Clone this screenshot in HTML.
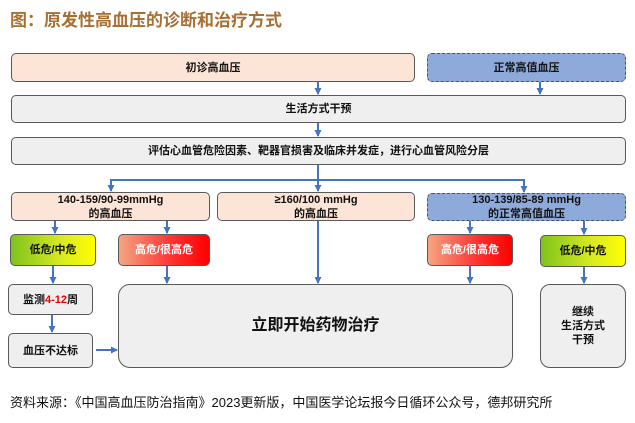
<!DOCTYPE html>
<html><head><meta charset="utf-8"><style>
body{margin:0;width:635px;height:423px;background:#fff;position:relative;overflow:hidden;font-family:"Liberation Sans","Noto Sans CJK SC",sans-serif;}
.b{position:absolute;box-sizing:border-box;border:1.3px solid #595959;border-radius:5px;display:flex;align-items:center;justify-content:center;text-align:center;font-weight:bold;font-size:11px;color:#111;line-height:14px;}
.p{background:#fce4d6}.g{background:#efefef}
.bl{background:#8eaadb;border:1.3px dashed #44546a}
.lo{background:linear-gradient(90deg,#7fc31c,#d8ea20 60%,#ffff00)}
.hi{background:linear-gradient(90deg,#f4a582,#ff3030 60%,#ff0000);color:#fff}
svg{position:absolute;left:0;top:0}
</style></head><body>
<div style="position:absolute;left:10px;top:6px;font-size:17px;font-weight:bold;color:#a86f32;">图：原发性高血压的诊断和治疗方式</div>
<div class="b p" style="left:11px;top:53px;width:404px;height:29px">初诊高血压</div>
<div class="b bl" style="left:427px;top:53px;width:199px;height:29px">正常高值血压</div>
<div class="b g" style="left:11px;top:95px;width:615px;height:28px">生活方式干预</div>
<div class="b g" style="left:11px;top:137px;width:615px;height:28px">评估心血管危险因素、靶器官损害及临床并发症，进行心血管风险分层</div>
<div class="b p" style="left:11px;top:192px;width:199px;height:29px">140-159/90-99mmHg<br>的高血压</div>
<div class="b p" style="left:217px;top:192px;width:198px;height:29px">≥160/100 mmHg<br>的高血压</div>
<div class="b bl" style="left:427px;top:193px;width:199px;height:28px">130-139/85-89 mmHg<br>的正常高值血压</div>
<div class="b lo" style="left:10px;top:234px;width:86px;height:32px">低危/中危</div>
<div class="b hi" style="left:118px;top:234px;width:92px;height:32px">高危/很高危</div>
<div class="b hi" style="left:427px;top:234px;width:86px;height:32px">高危/很高危</div>
<div class="b lo" style="left:540px;top:235px;width:86px;height:32px">低危/中危</div>
<div class="b g" style="left:8px;top:284px;width:85px;height:31px">监测<span style="color:#e00">4-12</span>周</div>
<div class="b g" style="left:8px;top:333px;width:85px;height:35px">血压不达标</div>
<div class="b g" style="left:118px;top:284px;width:395px;height:84px;font-size:16px;border-radius:12px">立即开始药物治疗</div>
<div class="b g" style="left:540px;top:284px;width:86px;height:84px;border-radius:10px">继续<br>生活方式<br>干预</div>
<div style="position:absolute;left:10px;top:392px;font-size:13px;color:#111;">资料来源：《中国高血压防治指南》2023更新版，中国医学论坛报今日循环公众号，德邦研究所</div>
<svg width="635" height="423">
<defs><marker id="a" markerUnits="userSpaceOnUse" markerWidth="7" markerHeight="7" refX="6" refY="3.5" orient="auto"><path d="M0,0L7,3.5L0,7z" fill="#4472c4"/></marker></defs>
<g stroke="#4472c4" stroke-width="2" fill="none" marker-end="url(#a)">
<line x1="318" y1="82" x2="318" y2="94"/>
<line x1="540" y1="82" x2="540" y2="94"/>
<line x1="318" y1="123" x2="318" y2="136"/>
<line x1="318" y1="165" x2="318" y2="191"/>
<polyline points="111,191 111,180 524,180 524,192"/>
<line x1="55" y1="221" x2="55" y2="233"/>
<line x1="167" y1="221" x2="167" y2="233"/>
<line x1="470" y1="221" x2="470" y2="233"/>
<line x1="584" y1="221" x2="584" y2="234"/>
<line x1="318" y1="221" x2="318" y2="283"/>
<line x1="53" y1="266" x2="53" y2="283"/>
<line x1="167" y1="266" x2="167" y2="283"/>
<line x1="470" y1="266" x2="470" y2="283"/>
<line x1="584" y1="267" x2="584" y2="283"/>
<line x1="52" y1="315" x2="52" y2="332"/>
<line x1="96" y1="350" x2="117" y2="350"/>
</g>
<line x1="111" y1="180" x2="111" y2="191" stroke="#4472c4" stroke-width="2" marker-end="url(#a)"/>
</svg>
</body></html>
